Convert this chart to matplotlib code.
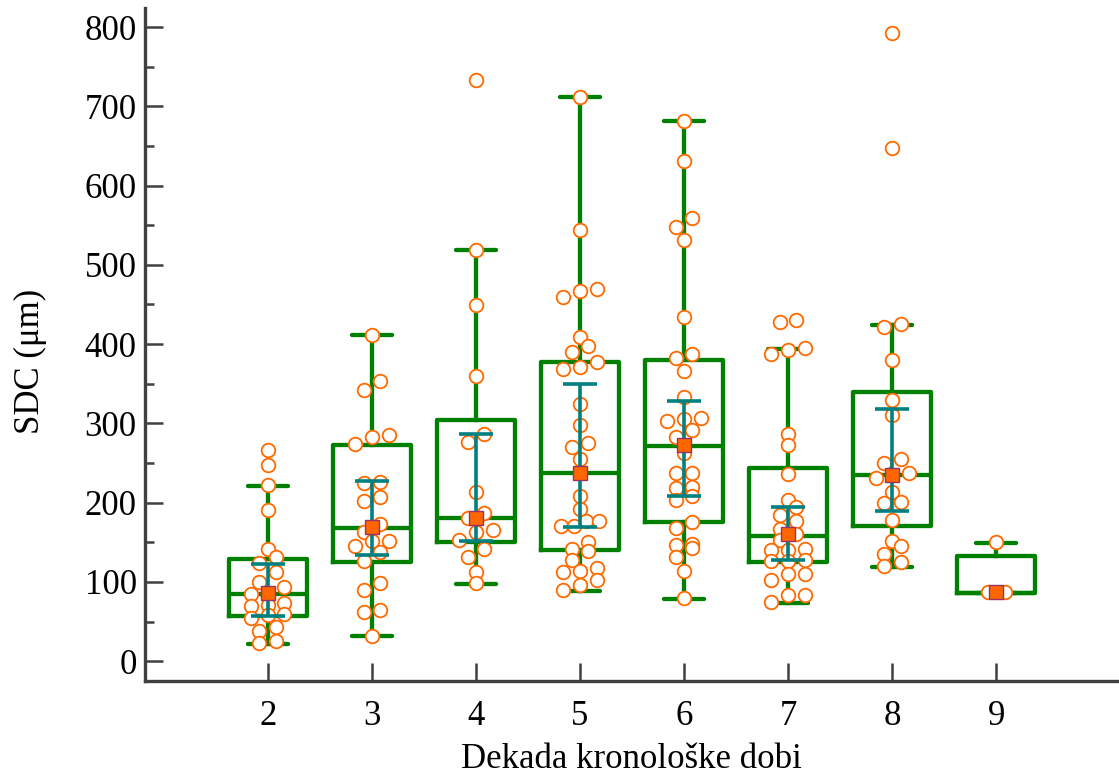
import numpy as np
import matplotlib
matplotlib.use("Agg")
import matplotlib.pyplot as plt
from matplotlib.ticker import MultipleLocator

# ---------------- data ----------------
decades = [2, 3, 4, 5, 6, 7, 8, 9]

g2 = [266, 248, 222, 191, 142, 132, 124, 112, 100, 94, 86, 85, 73, 71, 70, 59, 58, 55, 43, 38, 25, 23]
g3 = [411, 353, 342, 285, 283, 274, 226, 225, 207, 202, 173, 163, 152, 151, 145, 138, 126, 99, 90, 64, 62, 32]
g4 = [733, 519, 449, 360, 286, 277, 214, 187, 181, 165, 163, 153, 142, 132, 113, 98]
g5 = [712, 544, 470, 467, 460, 409, 397, 390, 377, 371, 369, 325, 298, 275, 270, 255, 209, 192,
      177, 177, 171, 171, 150, 142, 139, 128, 117, 114, 112, 102, 96, 90]
g6 = [682, 631, 559, 548, 531, 434, 388, 383, 366, 333, 307, 305, 303, 292, 283, 262, 238, 238,
      220, 219, 208, 203, 176, 168, 148, 147, 143, 131, 114, 80]
g7 = [430, 428, 395, 393, 388, 287, 273, 236, 203, 195, 185, 177, 167, 161, 153, 141, 140, 140,
      128, 126, 126, 110, 110, 102, 83, 83, 75]
g8 = [793, 648, 425, 422, 380, 329, 310, 255, 250, 238, 235, 231, 213, 201, 200, 178, 151, 145,
      135, 125, 120]
g9 = [150, 87, 87]
groups = [g2, g3, g4, g5, g6, g7, g8, g9]

q1      = [57, 125, 150, 140, 175, 125, 171, 86]
median  = [85, 168, 180, 237, 272, 158, 235, 86]
q3      = [129, 273, 304, 378, 380, 244, 340, 133]
whis_lo = [22, 32, 97, 88, 79, 74, 119, 86]
whis_hi = [221, 411, 519, 712, 682, 394, 424, 149]
means   = [86, 169, 181, 238, 273, 160, 235, 87]
ci_lo   = [57, 134, 151, 169, 208, 128, 190, np.nan]
ci_hi   = [123, 227, 286, 350, 328, 195, 318, np.nan]

x_label = "Dekada kronološke dobi"
y_label = "SDC (μm)"
y_ticks = list(range(0, 801, 100))

# ---------------- style ----------------
GREEN = "#008000"
TEAL = "#008080"
ORANGE = "#FF6A00"
SQ_FACE = "#FF6600"
SQ_EDGE = "#993366"
AX_COL = "#404040"

plt.rcParams["font.family"] = ["Liberation Serif", "DejaVu Serif"]

fig = plt.figure(figsize=(11.19, 7.80), dpi=100)
ax = fig.add_axes([145 / 1119, (780 - 681) / 780, (1118 - 145) / 1119, (681 - 8) / 780])


def swarm_offsets(vals, h=12.5, step=0.16, maxw=0.37):
    vals = np.asarray(vals, dtype=float)
    n = len(vals)
    order = np.argsort(vals, kind="stable")
    sv = vals[order]
    offs = np.zeros(n)
    i = 0
    while i < n:
        j = i
        while j + 1 < n and sv[j + 1] - sv[i] <= h:
            j += 1
        m = j - i + 1
        sp = step if m < 2 else min(step, maxw / (m - 1))
        for k in range(m):
            offs[order[i + k]] = (k - (m - 1) / 2) * sp
        i = j + 1
    return offs


# boxes
stats = []
for i, d in enumerate(decades):
    stats.append(dict(med=median[i], q1=q1[i], q3=q3[i],
                      whislo=whis_lo[i], whishi=whis_hi[i], label=str(d)))
lw_box = 3.1
ax.bxp(stats, positions=decades, widths=0.75, capwidths=0.385, showfliers=False,
       boxprops=dict(color=GREEN, linewidth=lw_box),
       medianprops=dict(color=GREEN, linewidth=lw_box, solid_capstyle="butt"),
       whiskerprops=dict(color=GREEN, linewidth=lw_box),
       capprops=dict(color=GREEN, linewidth=lw_box, solid_capstyle="round"),
       manage_ticks=False, zorder=2)

# points
for d, vals in zip(decades, groups):
    offs = swarm_offsets(vals)
    ax.plot(d + offs, vals, linestyle="none", marker="o", markersize=9.8,
            markerfacecolor="white", markeredgecolor=ORANGE, markeredgewidth=1.3, zorder=3)

# mean +/- interval
means_a = np.array(means, dtype=float)
lo_a = np.array(ci_lo, dtype=float)
hi_a = np.array(ci_hi, dtype=float)
ax.errorbar(decades, means_a, yerr=[means_a - lo_a, hi_a - means_a], fmt="none",
            ecolor=TEAL, elinewidth=2.6, capsize=11.9, capthick=2.6, zorder=4)
ax.plot(decades, means, linestyle="none", marker="s", markersize=9.5,
        markerfacecolor=SQ_FACE, markeredgecolor=SQ_EDGE, markeredgewidth=1.0, zorder=5)

# axes
ax.set_xlim(0.82, 10.17)
ax.set_ylim(-25, 824)
ax.set_xticks(decades)
ax.set_xticklabels([str(d) for d in decades])
ax.set_yticks(y_ticks)
ax.yaxis.set_minor_locator(MultipleLocator(50))

for s in ["top", "right"]:
    ax.spines[s].set_visible(False)
for s in ["left", "bottom"]:
    ax.spines[s].set_color(AX_COL)
    ax.spines[s].set_linewidth(2.4)

ax.tick_params(axis="both", which="major", direction="in", length=13, width=1.8,
               color=AX_COL, labelsize=25, labelcolor="black")
ax.tick_params(axis="y", which="minor", direction="in", length=6.5, width=1.8, color=AX_COL)
ax.tick_params(axis="x", which="minor", bottom=False)
ax.tick_params(axis="y", which="major", pad=6)
ax.tick_params(axis="x", which="major", pad=14)

ax.set_xlabel(x_label, fontsize=25, va="center")
ax.set_ylabel(y_label, fontsize=25, va="center")
ax.xaxis.set_label_coords(0.5, -0.116)
ax.yaxis.set_label_coords(-0.118, 0.4755)

fig.savefig("out.png", dpi=100)
